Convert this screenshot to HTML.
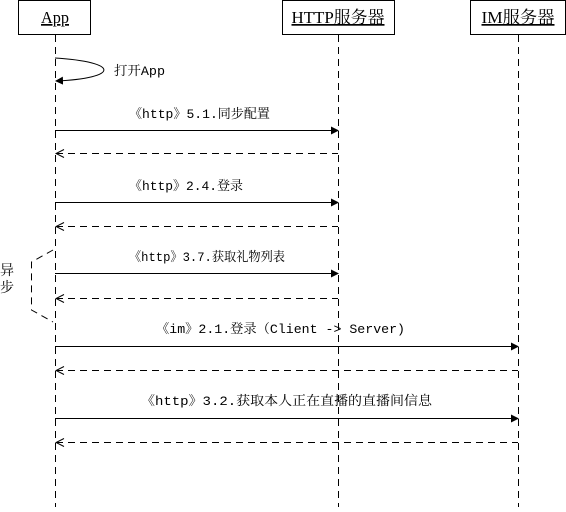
<!DOCTYPE html>
<html><head><meta charset="utf-8"><style>
html,body{margin:0;padding:0;background:#fff;}
</style></head><body>
<svg width="566" height="507" xmlns="http://www.w3.org/2000/svg" font-family="'Liberation Mono','Noto Serif CJK SC','Noto Sans CJK SC',monospace" font-size="13">
<defs>
<marker id="a" markerWidth="8" markerHeight="8" refX="7" refY="4" orient="auto" markerUnits="userSpaceOnUse"><path d="M0,0 L8,4 L0,8 z" fill="#000"/></marker>
<marker id="o" markerWidth="10" markerHeight="10" refX="1" refY="5" orient="auto" markerUnits="userSpaceOnUse"><path d="M9,1 L1,5 L9,9" fill="none" stroke="#000"/></marker>
</defs>
<g fill="#fff" stroke="#000">
<rect x="18.5" y="0.5" width="72" height="34"/>
<rect x="282.5" y="0.5" width="112" height="34"/>
<rect x="470.5" y="0.5" width="95" height="34"/>
</g>
<g font-size="17" text-anchor="middle" text-decoration="underline" font-family="'Liberation Serif','Noto Serif CJK SC',serif">
<text x="55" y="23" textLength="28" lengthAdjust="spacingAndGlyphs">App</text>
<text x="338" y="23" textLength="93" lengthAdjust="spacingAndGlyphs">HTTP服务器</text>
<text x="518" y="23" textLength="73" lengthAdjust="spacingAndGlyphs">IM服务器</text>
</g>
<g stroke="#000" stroke-dasharray="7,5">
<line x1="55.5" y1="35" x2="55.5" y2="507"/>
<line x1="338.5" y1="35" x2="338.5" y2="507"/>
<line x1="518.5" y1="35" x2="518.5" y2="507"/>
</g>
<path d="M55,58 C120,62 120,78 56,81" fill="none" stroke="#000" marker-end="url(#a)"/>
<text x="114" y="75" textLength="51" lengthAdjust="spacingAndGlyphs">打开App</text>
<g stroke="#000">
<line x1="55" y1="130.5" x2="338" y2="130.5" marker-end="url(#a)"/>
<line x1="56" y1="153.5" x2="338" y2="153.5" stroke-dasharray="7,5" marker-start="url(#o)"/>
<line x1="55" y1="202.5" x2="338" y2="202.5" marker-end="url(#a)"/>
<line x1="56" y1="226.5" x2="338" y2="226.5" stroke-dasharray="7,5" marker-start="url(#o)"/>
<line x1="55" y1="273.5" x2="338" y2="273.5" marker-end="url(#a)"/>
<line x1="56" y1="298.5" x2="338" y2="298.5" stroke-dasharray="7,5" marker-start="url(#o)"/>
<line x1="55" y1="346.5" x2="518" y2="346.5" marker-end="url(#a)"/>
<line x1="56" y1="370.5" x2="518" y2="370.5" stroke-dasharray="7,5" marker-start="url(#o)"/>
<line x1="55" y1="418.5" x2="518" y2="418.5" marker-end="url(#a)"/>
<line x1="56" y1="442.5" x2="518" y2="442.5" stroke-dasharray="7,5" marker-start="url(#o)"/>
<path d="M53,250 L31.5,262 L31.5,310 L53,322" fill="none" stroke-dasharray="7,5"/>
</g>
<g>
<text x="129" y="118" textLength="141" lengthAdjust="spacingAndGlyphs">《http》5.1.同步配置</text>
<text x="129" y="190" textLength="114" lengthAdjust="spacingAndGlyphs">《http》2.4.登录</text>
<text x="129" y="261" textLength="156" lengthAdjust="spacingAndGlyphs">《http》3.7.获取礼物列表</text>
<text x="156" y="333" textLength="249" lengthAdjust="spacingAndGlyphs">《im》2.1.登录（Client -&gt; Server)</text>
<text x="141" y="405" textLength="291" lengthAdjust="spacingAndGlyphs">《http》3.2.获取本人正在直播的直播间信息</text>
</g>
<text x="0" y="275" font-size="14">异</text>
<text x="0" y="292" font-size="14">步</text>
</svg>
</body></html>
